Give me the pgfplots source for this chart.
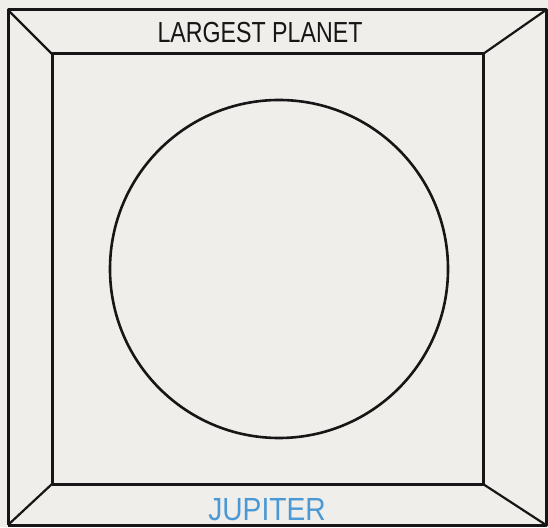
\documentclass[border=0pt]{standalone}
\usepackage{pgfplots}
\pgfplotsset{compat=1.18}
\usepackage{fontspec}
\setmainfont{Liberation Sans}
\definecolor{bg}{RGB}{239,238,235}
\definecolor{ink}{RGB}{22,22,22}
\definecolor{jblue}{RGB}{74,152,212}
\begin{document}
\begin{tikzpicture}
\begin{axis}[
  width=548pt, height=527pt, scale only axis,
  xmin=0, xmax=548, ymin=0, ymax=527,
  axis lines=none, ticks=none,
  axis background/.style={fill=bg},
  clip=false,
]
% outer frame
\addplot[ink, line width=3pt, line join=round] coordinates {(8,2) (8,517) (546,517) (546,2) (8,2)};
% inner frame
\addplot[ink, line width=3pt, line join=round] coordinates {(52,43) (52,473) (483,473) (483,43) (52,43)};
% corner diagonals
\addplot[ink, line width=2.2pt] coordinates {(8,517) (52,473)};
\addplot[ink, line width=2.2pt] coordinates {(546,517) (483,473)};
\addplot[ink, line width=2.2pt] coordinates {(8,2) (52,43)};
\addplot[ink, line width=2.2pt] coordinates {(546,2) (483,43)};
% circle
\draw[ink, line width=2.6pt] (axis cs:279,258) circle[radius=169];
% labels
\node[ink, font=\fontsize{29}{29}\selectfont, xscale=0.80] at (axis cs:260,494) {LARGEST PLANET};
\node[jblue, font=\fontsize{32}{32}\selectfont, xscale=0.88] at (axis cs:267,17) {JUPITER};
\end{axis}
\end{tikzpicture}
\end{document}
